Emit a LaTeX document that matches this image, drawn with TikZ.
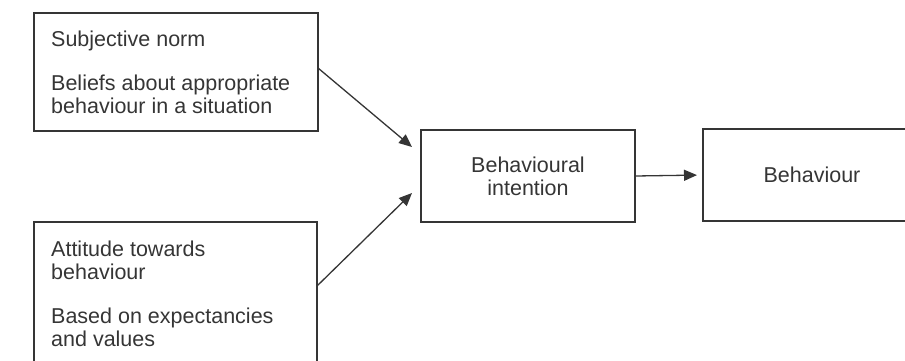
\documentclass[tikz,border=0pt]{standalone}
\usepackage{fontspec}
\setmainfont{Liberation Sans}
\usetikzlibrary{arrows.meta}
\definecolor{ink}{HTML}{353535}
\begin{document}
\begin{tikzpicture}[x=1pt,y=-1pt,
  every node/.style={text=ink, font=\fontsize{21.5}{23}\selectfont},
  box/.style={draw=ink, line width=1.8pt, rectangle, inner sep=0pt, outer sep=0pt},
  label/.style={anchor=base west, inner sep=0pt, align=left},
  link/.style={draw=ink, line width=1.3pt, -{Triangle[length=13pt,width=11pt]}}]
  \useasboundingbox (0,0) rectangle (905,360);
  \clip (0,0) rectangle (905,360);

  % model boxes
  \node[box, minimum width=284pt, minimum height=118pt] (sn) at (176,72) {};
  \node[box, minimum width=283pt, minimum height=158pt] (att) at (175.5,301) {};
  \node[box, minimum width=214pt, minimum height=92pt, align=center] (bi) at (528,176)
    {Behavioural\\intention};
  \node[box, minimum width=218pt, minimum height=92pt] (beh) at (812,175) {Behaviour};

  % box texts (base anchor sits on the last line)
  \node[label] (snT) at (51,46) {Subjective norm};
  \node[label] (snD) at (51,113) {Beliefs about appropriate\\behaviour in a situation};
  \node[label] (attT) at (51,279) {Attitude towards\\behaviour};
  \node[label] (attD) at (51,346) {Based on expectancies\\and values};

  % arrow ends in front of the intention box
  \coordinate (in1) at (412,147);
  \coordinate (in2) at (412,193);

  \draw[link] ([yshift=4pt]sn.east) -- (in1);
  \draw[link] ([yshift=15pt]att.east) -- (in2);
  \draw[link, shorten >=6pt] (bi.east) -- (beh.west);
\end{tikzpicture}
\end{document}
